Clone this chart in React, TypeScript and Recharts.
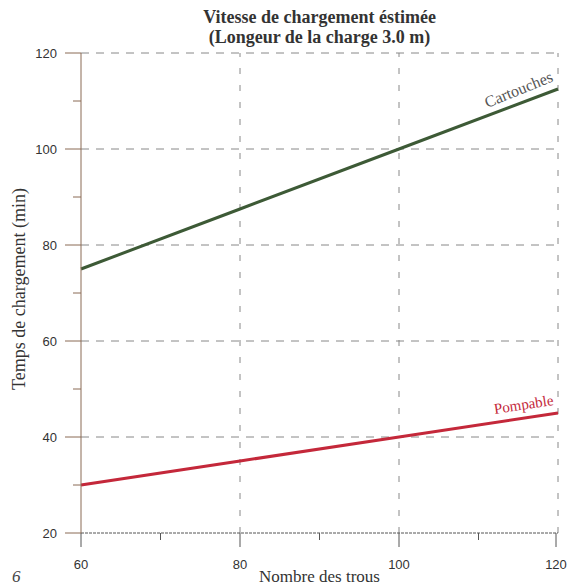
import React from 'react';
import { LineChart, Line, XAxis, YAxis, ReferenceLine } from 'recharts';

const trous = [60, 80, 100, 120];
const cartouches = [75, 87.5, 100, 112.5];
const pompable = [30, 35, 40, 45];

const xTicks = [60, 70, 80, 90, 100, 110, 120];
const yTicks = [20, 30, 40, 50, 60, 70, 80, 90, 100, 110, 120];
const xGrid = [80, 100, 120];
const yGrid = [40, 60, 80, 100, 120];

const data = trous.map((t, i) => ({ trous: t, cartouches: cartouches[i], pompable: pompable[i] }));

const SERIF = '"Liberation Serif", "Times New Roman", serif';
const SANS = '"Liberation Sans", Arial, sans-serif';

function XTick(props: any) {
  const { x, y, payload } = props;
  const major = payload.value % 20 === 0;
  return (
    <g>
      <line x1={x} x2={x} y1={y} y2={y + (major ? 14 : 7)} stroke="#555" strokeWidth={1} />
      {major && (
        <text x={x} y={y + 36} textAnchor="middle" fontSize={13} fill="#333" fontFamily={SANS}>
          {payload.value}
        </text>
      )}
    </g>
  );
}

function YTick(props: any) {
  const { x, y, payload } = props;
  const major = payload.value % 20 === 0;
  return (
    <g>
      <line x1={x} x2={x - (major ? 16 : 8)} y1={y} y2={y} stroke="#8a6a55" strokeWidth={1} />
      {major && (
        <text x={x - 24} y={y + 5} textAnchor="end" fontSize={13} fill="#333" fontFamily={SANS}>
          {payload.value}
        </text>
      )}
    </g>
  );
}

function endLabel(text: string, color: string, angle: number, dy: number, size: number) {
  return (props: any) => {
    const { x, y, index } = props;
    if (index !== trous.length - 1) return null;
    return (
      <text
        x={x - 4}
        y={y + dy}
        textAnchor="end"
        fontSize={size}
        fill={color}
        fontFamily={SERIF}
        transform={`rotate(${angle}, ${x - 4}, ${y + dy})`}
      >
        {text}
      </text>
    );
  };
}

export default function App() {
  return (
    <div style={{ position: 'absolute', left: 0, top: 0, width: 568, height: 585, background: '#fff' }}>
      <div
        style={{
          position: 'absolute', left: 81, width: 477, top: 7, textAlign: 'center',
          fontFamily: SERIF, fontWeight: 'bold', fontSize: 18, lineHeight: '20px', color: '#333',
        }}
      >
        Vitesse de chargement éstimée
        <br />
        (Longeur de la charge 3.0 m)
      </div>
      <LineChart width={568} height={585} data={data} margin={{ top: 53, right: 10, left: 21, bottom: 22 }}>
        <XAxis
          dataKey="trous"
          type="number"
          domain={[60, 120]}
          ticks={xTicks}
          tick={<XTick />}
          tickLine={false}
          tickSize={0}
          tickMargin={0}
          height={30}
          axisLine={{ stroke: '#555', strokeDasharray: '3 1' }}
        />
        <YAxis
          type="number"
          domain={[20, 120]}
          ticks={yTicks}
          tick={<YTick />}
          tickLine={false}
          tickSize={0}
          tickMargin={0}
          width={60}
          axisLine={{ stroke: '#8a6a55' }}
        />
        {yGrid.map((v) => (
          <ReferenceLine key={'y' + v} y={v} stroke="#888" strokeDasharray="8 7" ifOverflow="visible" />
        ))}
        {xGrid.map((v) => (
          <ReferenceLine key={'x' + v} x={v} stroke="#888" strokeDasharray="6 11" ifOverflow="visible" />
        ))}
        <Line
          dataKey="cartouches"
          stroke="#3d5a36"
          strokeWidth={3}
          dot={false}
          isAnimationActive={false}
          label={endLabel('Cartouches', '#555', -22, -8, 16)}
        />
        <Line
          dataKey="pompable"
          stroke="#c4283a"
          strokeWidth={3}
          dot={false}
          isAnimationActive={false}
          label={endLabel('Pompable', '#c4283a', -8.6, -8, 15)}
        />
      </LineChart>
      <div
        style={{
          position: 'absolute', left: 81, width: 477, top: 568, textAlign: 'center',
          fontFamily: SERIF, fontSize: 17, color: '#333', lineHeight: '17px',
        }}
      >
        Nombre des trous
      </div>
      <div
        style={{
          position: 'absolute', left: 19, top: 289, width: 0, height: 0,
        }}
      >
        <div
          style={{
            position: 'absolute', left: -150, top: -10, width: 300, textAlign: 'center',
            transform: 'rotate(-90deg)', fontFamily: SERIF, fontSize: 18, color: '#333', lineHeight: '20px',
            whiteSpace: 'nowrap',
          }}
        >
          Temps de chargement (min)
        </div>
      </div>
      <div
        style={{
          position: 'absolute', left: 12, top: 568, fontFamily: SERIF, fontStyle: 'italic',
          fontSize: 17, color: '#444', lineHeight: '18px',
        }}
      >
        6
      </div>
    </div>
  );
}
